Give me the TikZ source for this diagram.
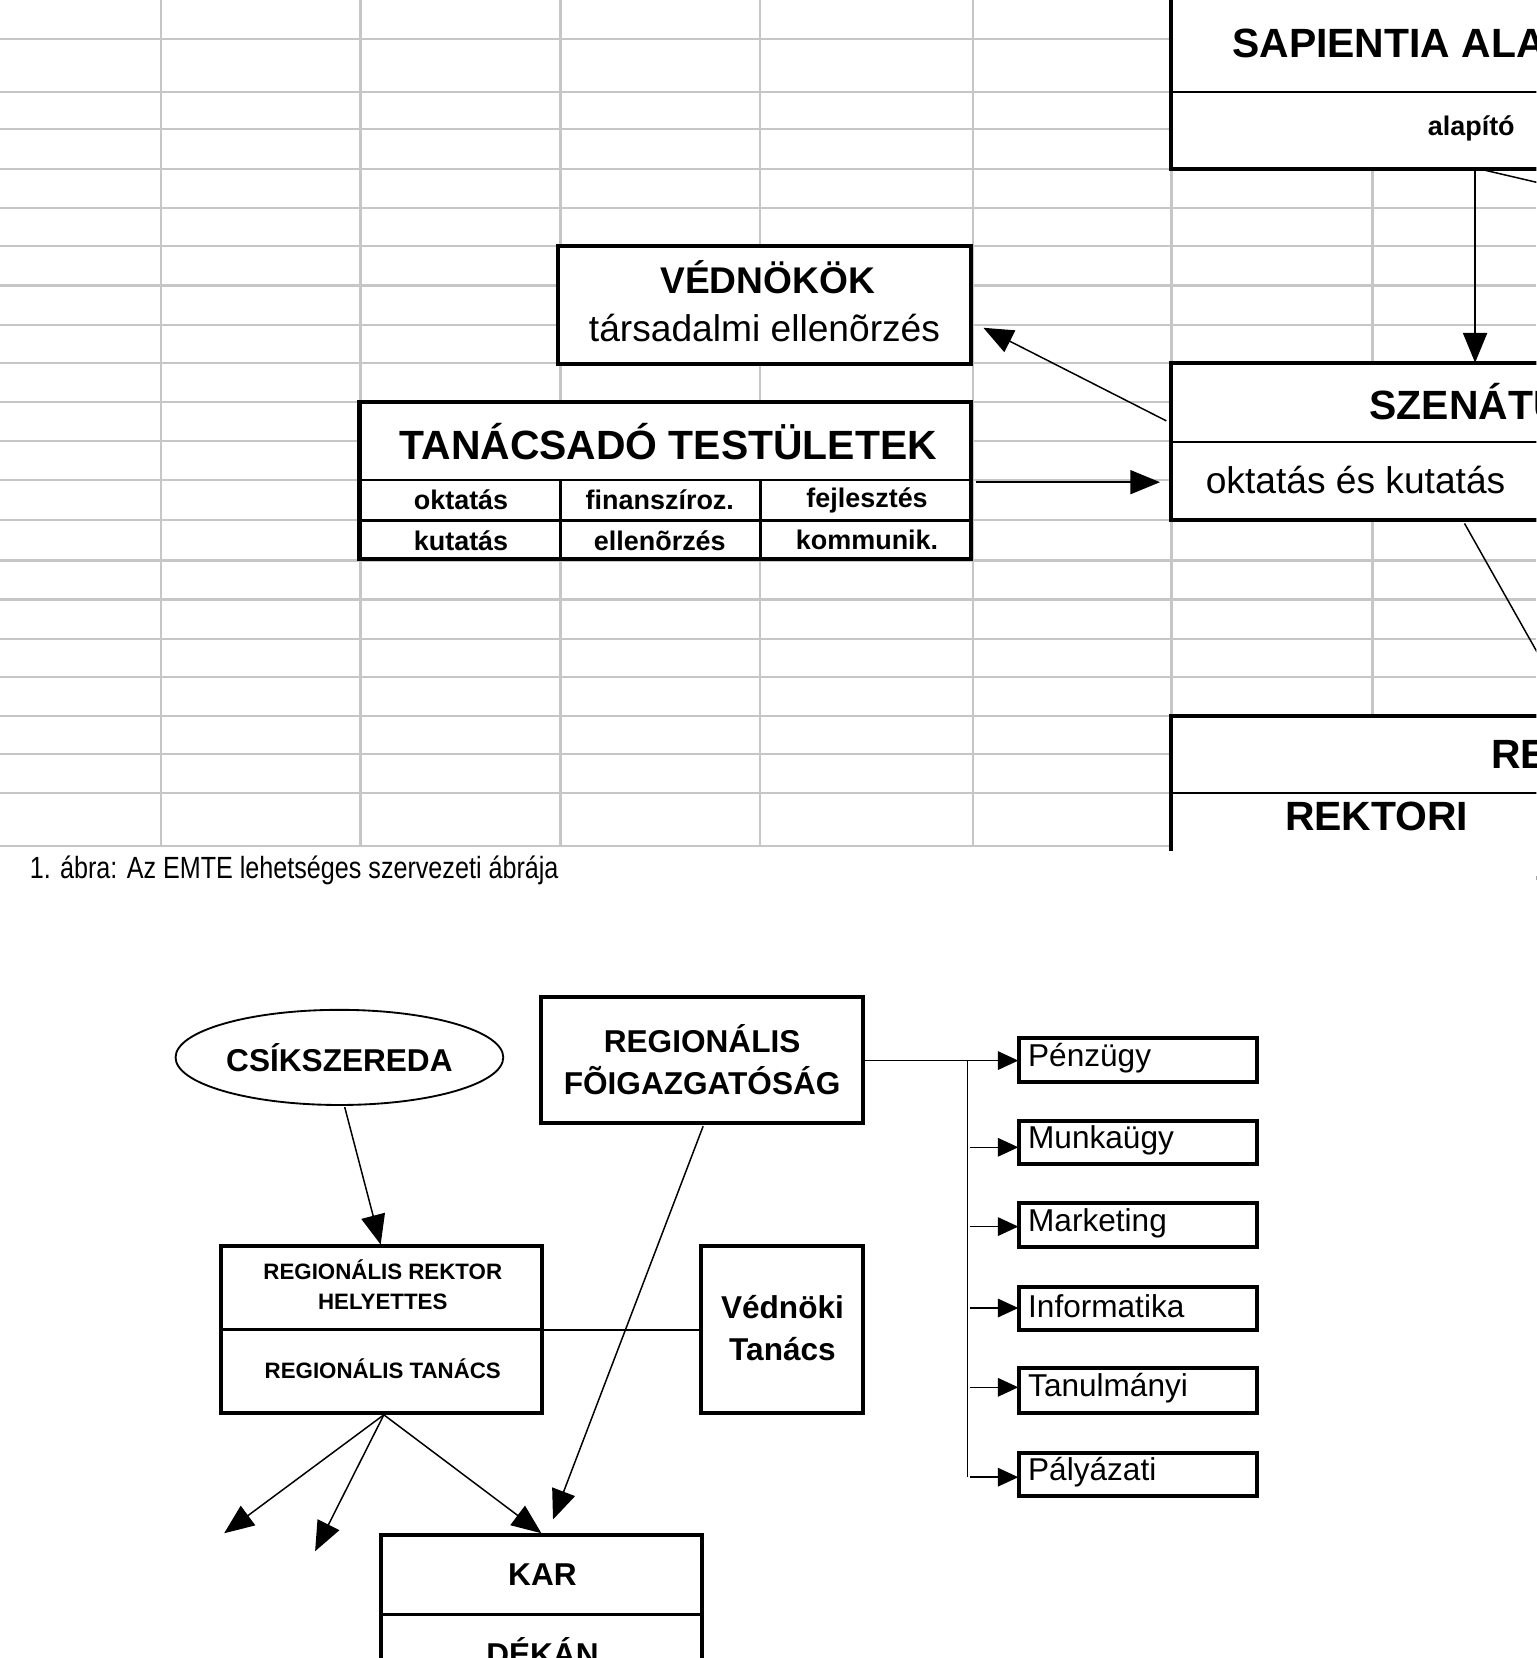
\documentclass[tikz,border=0pt]{standalone}
\usepackage{fontspec}
\setmainfont{Liberation Sans}
\usetikzlibrary{arrows.meta,shapes.geometric}
\begin{document}
\begin{tikzpicture}[x=0.02cm,y=-0.02cm,
 bx/.style={draw,line width=2.2pt,fill=white},
 ln/.style={line width=0.8pt},
 ar/.style={ln,-{Triangle[length=16pt,width=13pt]}},
 sar/.style={ln,-{Triangle[length=11pt,width=10pt]}},
 t/.style={font=\bfseries\fontsize{#1}{#1}\selectfont,inner sep=0pt},
 r/.style={font=\fontsize{#1}{#1}\selectfont,inner sep=0pt}]
\useasboundingbox (0,0) rectangle (1453,1568);
\clip (0,0) rectangle (1453,1568);
% grid
\foreach \y in {37,87,122,160,197,233,270,307,343,380,417,454,492,530,567,604,640,677,713,750,800}
  \draw[gray!45,line width=1.2pt] (0,\y) -- (1453,\y);
\foreach \x in {152,341,530,719,920,1108,1298}
  \draw[gray!45,line width=1.2pt] (\x,0) -- (\x,800);
% top right boxes
\draw[bx] (1107,-10) rectangle (1470,160); \draw[line width=1.5pt] (1107,87) -- (1470,87);
\node[t=22pt,anchor=west] (sap) at (1165,37) {SAPIENTIA ALAPÍTVÁNY};
\node[t=14.5pt,anchor=west] (alap) at (1350,121) {alapító};
\draw[bx] (1107,343) rectangle (1470,492); \draw[line width=1.5pt] (1107,418) -- (1470,418);
\node[t=22pt,anchor=west] (szen) at (1295,380) {SZENÁTUS};
\node[r=20pt,anchor=west] (okt) at (1140,454) {oktatás és kutatás};
\draw[bx] (1107,677) rectangle (1470,830); \draw[line width=1.5pt] (1107,750) -- (1470,750);
\node[t=22pt,anchor=west] (rek) at (1410,713) {REKTOR};
\node[t=22pt,anchor=west] (reki) at (1215,772) {REKTORI};
\fill[white] (0,805) rectangle (1453,1568);
\coordinate (a1) at (1395,160); \coordinate (a2) at (1395,343);
\draw[ar] (a1) -- (a2);
\draw[ln] (1400,160) -- (1460,174);
\draw[ln] (1385,495) -- (1460,628);
% VEDNOKOK
\draw[bx] (528,233) rectangle (918,344);
\node[t=20pt] (ved) at (726,262) {VÉDNÖKÖK};
\node[r=20pt] (tars) at (723,310) {társadalmi ellenõrzés};
\coordinate (v1) at (1103,398); \coordinate (v2) at (930,310);
\draw[ar] (v1) -- (v2);
% TANACSADO
\draw[bx] (340,380) rectangle (918,529);
\draw[line width=1.5pt] (340,454) -- (918,454) (340,492) -- (918,492) (530,454) -- (530,529) (719,454) -- (719,529);
\node[t=22pt] (tan) at (632,418) {TANÁCSADÓ TESTÜLETEK};
\node[t=14.5pt] at (436,473) {oktatás};
\node[t=14.5pt] at (624,473) {finanszíroz.};
\node[t=14.5pt] at (820,473) {fejlesztés};
\node[t=14.5pt] at (436,511) {kutatás};
\node[t=14.5pt] at (624,511) {ellenõrzés};
\node[t=14.5pt] at (820,511) {kommunik.};
\coordinate (t1) at (923,456); \coordinate (t2) at (1097,456);
\draw[ar] (t1) -- (t2);
% caption
\node[r=16.5pt,anchor=west,xscale=0.82] (cap) at (28,823) {1. ábra: Az EMTE lehetséges szervezeti ábrája};
% bottom
\node[ellipse,draw,line width=1pt,minimum width=6.2cm,minimum height=1.8cm,t=17pt] (csik) at (321,1000) {CSÍKSZEREDA};
\draw[bx] (512,943) rectangle (816,1062);
\node[t=17pt,align=center] (rf) at (664,1002) {REGIONÁLIS\\[6pt]FÕIGAZGATÓSÁG};
\foreach \n/\ya/\yb/\txt in {1/982/1023/Pénzügy,2/1060/1101/Munkaügy,3/1138/1179/Marketing,4/1217/1258/Informatika,5/1294/1336/Tanulmányi,6/1374/1415/Pályázati}{
  \draw[bx] (964,\ya) rectangle (1189,\yb);
  \node[r=17pt,anchor=west] (d\n) at (972,{(\ya+\yb)/2-2}) {\txt};
}
\draw[ln] (915,1003) -- (915,1397);
\draw[sar] (816,1003) -- (963,1003);
\foreach \y in {1085,1160,1237,1312,1397} \draw[sar] (917,\y) -- (963,\y);
\draw[bx] (209,1178) rectangle (513,1336); \draw[line width=1.5pt] (209,1257) -- (513,1257);
\node[t=12pt,align=center] (rrh) at (362,1215) {REGIONÁLIS REKTOR\\[4pt]HELYETTES};
\node[t=12pt] (rt) at (362,1294) {REGIONÁLIS TANÁCS};
\draw[bx] (663,1178) rectangle (816,1336);
\node[t=17pt,align=center] (vt) at (740,1256) {Védnöki\\[6pt]Tanács};
\draw[ln] (513,1258) -- (663,1258);
\draw[ar] (326,1047) -- (360,1177);
\draw[ar] (665,1065) -- (523,1437);
\coordinate (b0) at (363,1338);
\draw[ar] (b0) -- (212,1450);
\draw[ar] (b0) -- (298,1467);
\draw[ar] (b0) -- (512,1450);
\draw[bx] (360,1452) rectangle (664,1600); \draw[line width=1.5pt] (360,1527) -- (664,1527);
\node[t=17pt] (kar) at (513,1489) {KAR};
\node[t=17pt] (dek) at (513,1562) {DÉKÁN};
\end{tikzpicture}
\end{document}
